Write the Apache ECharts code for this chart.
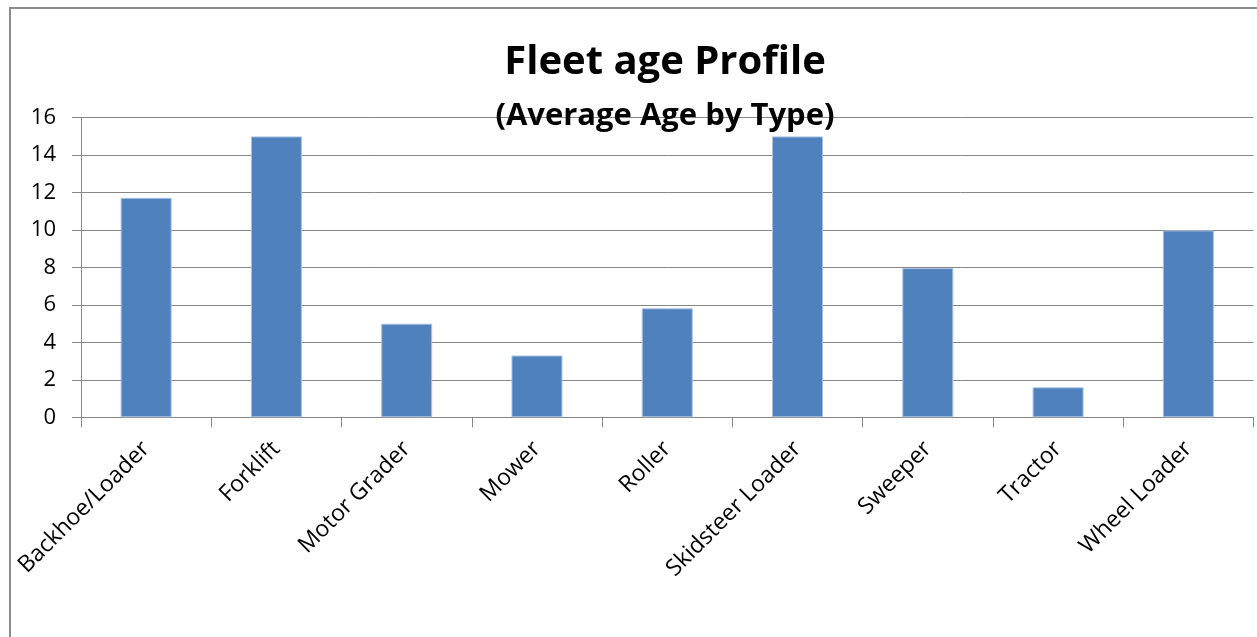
<!DOCTYPE html>
<html>
<head>
<meta charset="utf-8">
<script src="https://cdn.jsdelivr.net/npm/echarts@6/dist/echarts.min.js"></script>
<style>html,body{margin:0;padding:0;background:#fff}#c{width:1257px;height:637px}</style>
</head>
<body>
<div id="c"></div>
<script>
const categories = ["Backhoe/Loader","Forklift","Motor Grader","Mower","Roller","Skidsteer Loader","Sweeper","Tractor","Wheel Loader"];
const averageAge = [11.72, 15.0, 5.0, 3.3, 5.82, 15.0, 7.97, 1.6, 9.98];
const yTicks = {min: 0, max: 16, interval: 2};
const titleText = "Fleet age Profile";
const subtitleText = "(Average Age by Type)";

const chart = echarts.init(document.getElementById('c'));
const FONT = 'Open Sans';
chart.setOption({
  animation: false,
  backgroundColor: '#fff',
  graphic: [{
    type: 'rect', z: 100, silent: true,
    shape: {x: 10, y: 8, width: 1262, height: 660},
    style: {fill: 'none', stroke: '#8c8c8c', lineWidth: 2}
  }],
  title: [
    {text: titleText, left: 665, top: 43, textAlign: 'center', padding: 0,
     textStyle: {fontFamily: FONT, fontWeight: 'bold', fontSize: 40, lineHeight: 40, color: '#000'}},
    {text: subtitleText, left: 665, top: 101, textAlign: 'center', padding: 0,
     textStyle: {fontFamily: FONT, fontWeight: 'bold', fontSize: 31, lineHeight: 31, color: '#000'}}
  ],
  grid: {left: 81, right: 3.5, top: 117.7, bottom: 219.7, containLabel: false},
  xAxis: {
    type: 'category', data: categories, boundaryGap: true,
    axisLine: {show: true, lineStyle: {color: '#868686', width: 1}},
    axisTick: {show: true, length: 10, lineStyle: {color: '#868686'}},
    axisLabel: {rotate: 45, interval: 0, margin: 28, fontFamily: FONT, fontSize: 23, color: '#000'}
  },
  yAxis: {
    type: 'value', min: yTicks.min, max: yTicks.max, interval: yTicks.interval,
    axisLine: {show: true, lineStyle: {color: '#868686', width: 1}},
    axisTick: {show: true, length: 9, lineStyle: {color: '#868686'}},
    splitLine: {show: true, lineStyle: {color: '#868686', width: 1}},
    axisLabel: {margin: 25, fontFamily: FONT, fontSize: 22, color: '#000'}
  },
  series: [{
    type: 'bar', data: averageAge, barWidth: 51,
    itemStyle: {color: '#4F81BD', borderColor: '#a9c1e3', borderWidth: 1}
  }]
});
</script>
</body>
</html>
